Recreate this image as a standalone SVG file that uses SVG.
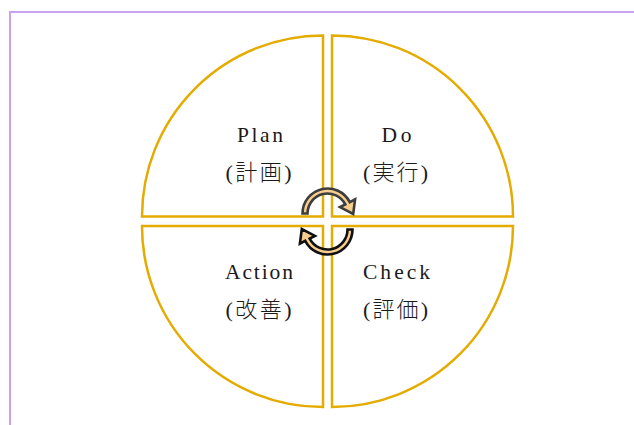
<svg xmlns="http://www.w3.org/2000/svg" width="634" height="425" viewBox="0 0 634 425">
  <defs>
    <style>
      .quad { fill: #ffffff; stroke: #E4AB00; stroke-width: 2.5; stroke-linejoin: miter; }
      .lat { font-family: "Liberation Serif", "Noto Sans CJK JP", serif; font-size: 21.5px; fill: #1a1a1a; text-anchor: middle; }
      .cjk { font-family: "Liberation Serif", "Noto Sans CJK JP", serif; font-size: 22px; font-weight: 300; fill: #1a1a1a; text-anchor: middle; }
      .arrow { fill: #F7CE8E; stroke-width: 2.6; stroke-linejoin: miter; }
    </style>
  </defs>
  <rect x="0" y="0" width="634" height="425" fill="#ffffff"/>
  <rect x="10" y="12" width="700" height="500" fill="none" stroke="#C9A3F2" stroke-width="2"/>

  <g id="plan">
    <path class="quad" d="M323,216.5 L323,35.5 A181,181 0 0 0 142,216.5 Z"/>
    <text class="lat" x="260" y="142" textLength="46" lengthAdjust="spacing">Plan</text>
    <text class="cjk" x="258.5" y="179.5" textLength="66" lengthAdjust="spacing">(計画)</text>
  </g>
  <g id="do">
    <path class="quad" d="M332,216.5 L332,35.5 A181,181 0 0 1 513,216.5 Z"/>
    <text class="lat" x="396.5" y="142" textLength="30" lengthAdjust="spacing">Do</text>
    <text class="cjk" x="395.5" y="179.5" textLength="65" lengthAdjust="spacing">(実行)</text>
  </g>
  <g id="action">
    <path class="quad" d="M323,226 L142,226 A181,181 0 0 0 323,407 Z"/>
    <text class="lat" x="259" y="279" textLength="68" lengthAdjust="spacing">Action</text>
    <text class="cjk" x="258.5" y="317" textLength="66" lengthAdjust="spacing">(改善)</text>
  </g>
  <g id="check">
    <path class="quad" d="M332,226 L513,226 A181,181 0 0 1 332,407 Z"/>
    <text class="lat" x="396.5" y="279" textLength="67" lengthAdjust="spacing">Check</text>
    <text class="cjk" x="395.5" y="317" textLength="65" lengthAdjust="spacing">(評価)</text>
  </g>

  <g id="connectors">
    <path class="arrow" stroke="#3d3d3d" d="M302.5,213.5 A25,25 0 0 1 349.78,202.15 L355.1,199.4 L353.2,214 L340,207.1 L345.32,204.42 A20,20 0 0 0 307.5,213.5 Z"/>
    <path class="arrow" stroke="#111111" d="M352.5,229.5 A25,25 0 0 1 305.22,240.85 L299.9,243.6 L301.8,229 L315,235.9 L309.68,238.58 A20,20 0 0 0 347.5,229.5 Z"/>
  </g>
</svg>
